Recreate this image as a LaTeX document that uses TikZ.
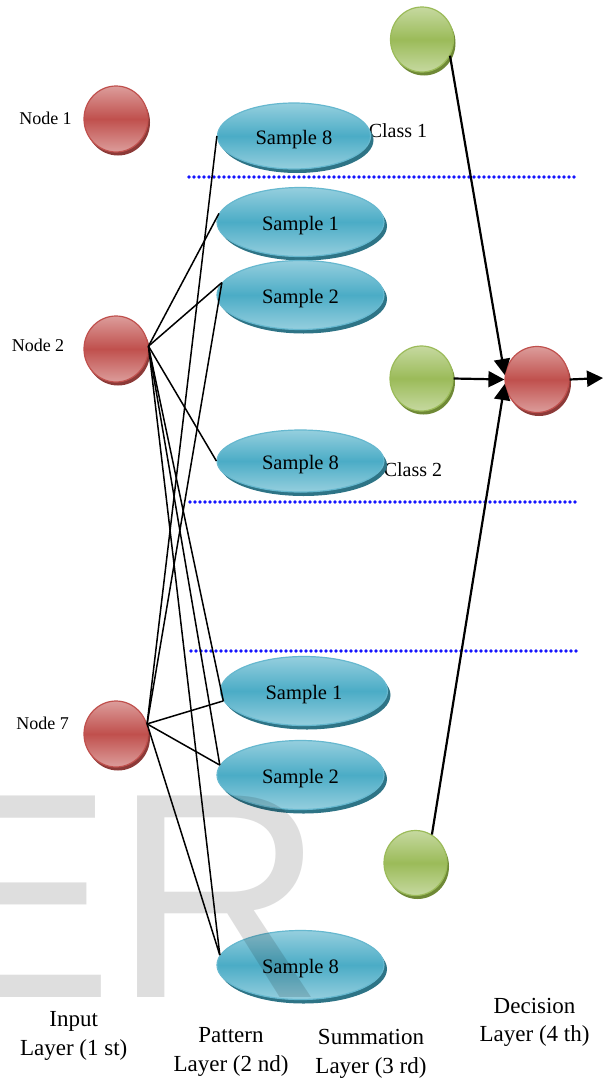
\documentclass[tikz,border=0pt]{standalone}
\usepackage{fontspec}
\setmainfont{Liberation Serif}
\newfontfamily\wmfont{Liberation Sans}
\usetikzlibrary{shapes.geometric,arrows.meta,shadows}

\definecolor{redmain}{HTML}{C0504D}
\definecolor{redlight}{HTML}{DC9D9B}
\definecolor{redshade}{HTML}{8C3A38}
\definecolor{grnmain}{HTML}{9BBB59}
\definecolor{grnlight}{HTML}{C6D9A0}
\definecolor{grnshade}{HTML}{6F8936}
\definecolor{bluemain}{HTML}{4BACC6}
\definecolor{bluelight}{HTML}{95CFDE}
\definecolor{blueshade}{HTML}{2E7486}
\definecolor{divblue}{HTML}{1414FF}

\begin{document}
\begin{tikzpicture}[x=1pt,y=-1pt,
  ball/.style={ellipse, inner sep=0pt, minimum width=64pt, minimum height=66pt, line width=1.2pt},
  redball/.style={ball, draw=redmain, top color=redlight, bottom color=redlight, middle color=redmain,
    drop shadow={shadow xshift=2pt, shadow yshift=-3.5pt, fill=redshade, opacity=1}},
  grnball/.style={ball, minimum width=63pt, minimum height=65pt, draw=grnmain, top color=grnlight, bottom color=grnlight, middle color=grnmain,
    drop shadow={shadow xshift=2pt, shadow yshift=-3.5pt, fill=grnshade, opacity=1}},
  sample/.style={ellipse, inner sep=0pt, minimum width=167pt, minimum height=69pt, line width=1.2pt,
    draw=bluemain!85!white, top color=bluelight, bottom color=bluelight, middle color=bluemain,
    drop shadow={shadow xshift=3pt, shadow yshift=-4pt, fill=blueshade, opacity=1},
    font=\fontsize{20.5}{24}\selectfont, text height=16pt, text depth=0pt},
  lbl/.style={font=\fontsize{18}{20}\selectfont, anchor=base, inner sep=0pt},
  cls/.style={font=\fontsize{20}{24}\selectfont, anchor=base, inner sep=0pt},
  layer/.style={font=\fontsize{23}{28.3}\selectfont, align=center, anchor=base, inner sep=0pt},
  link/.style={black, line width=1.5pt},
  arr/.style={black, line width=2.2pt, -{Triangle[length=16pt,width=16pt]}},
  divider/.style={divblue, line width=3.8pt, line cap=round, dash pattern=on 0pt off 5pt}
]
% page
\fill[white] (0,0) rectangle (604,1081);
\path[use as bounding box] (0,0) rectangle (604,1081);

% class separators
\draw[divider] (189,177) -- (576,177);
\draw[divider] (190,502) -- (577,502);
\draw[divider] (191,651) -- (577,651);

% class names (partly tucked behind the pattern units)
\node[cls] (c1) at (398,137.7) {Class 1};
\node[cls] (c2) at (413,476) {Class 2};

% input layer
\node[redball] (n1) at (116,119) {};
\node[redball] (n2) at (116,349) {};
\node[redball] (n7) at (116,734) {};
\node[lbl] (l1) at (45.5,124) {Node 1};
\node[lbl] (l2) at (38,351.7) {Node 2};
\node[lbl] (l7) at (42.6,729) {Node 7};

% pattern layer
\node[sample, minimum width=153pt, minimum height=66pt] (s8a) at (294,136) {Sample 8};
\node[sample] (s1a) at (300.5,222) {Sample 1};
\node[sample] (s2a) at (300.5,295) {Sample 2};
\node[sample, minimum height=62pt] (s8b) at (300.5,461) {Sample 8};
\node[sample] (s1b) at (304,691) {Sample 1};
\node[sample] (s2b) at (300.5,775) {Sample 2};
\node[sample] (s8c) at (300.5,965) {Sample 8};

% summation and decision layers
\node[grnball] (g1) at (422,39.5) {};
\node[grnball] (g2) at (421.5,378.5) {};
\node[grnball] (g3) at (415.5,863) {};
\node[redball] (d) at (537,379.5) {};
\coordinate (outpt) at (603,378);

% input -> pattern connections
\draw[link] (n2.5) -- (s1a.174);
\draw[link] (n2.5) -- (s2a.171);
\draw[link] (n2.5) -- (s8b.west);
\draw[link] (n2.5) -- (s1b.187);
\draw[link] (n2.5) -- (s2b.173);
\draw[link] (n2.5) -- (s8c.173);
\draw[link] (n7.18) -- (s8a.west);
\draw[link] (n7.18) -- (s2a.171);
\draw[link] (n7.18) -- (s1b.187);
\draw[link] (n7.18) -- (s2b.173);
\draw[link] (n7.18) -- (s8c.173);

% summation -> decision
\draw[arr] (g1.-30) -- (d.172);
\draw[arr] (g2.east) -- (d.west);
\draw[arr] (g3.60) -- (d.188);
\draw[arr] (d.east) -- (outpt);

% layer captions (anchored on the baseline of the lower line)
\node[layer] (lay1) at (73.7,1055) {Input\\Layer (1 st)};
\node[layer] (lay2) at (231,1071) {Pattern\\Layer (2 nd)};
\node[layer] (lay3) at (371,1073) {Summation\\Layer (3 rd)};
\node[layer] (lay4) at (534.6,1041.7) {Decision\\Layer (4 th)};

% faint lettering across the lower left
\node[anchor=base west, inner sep=0pt, font=\wmfont\fontsize{293}{293}\selectfont,
  text=black, text opacity=0.13] (wm) at (-82,997) {ER};
\end{tikzpicture}
\end{document}
